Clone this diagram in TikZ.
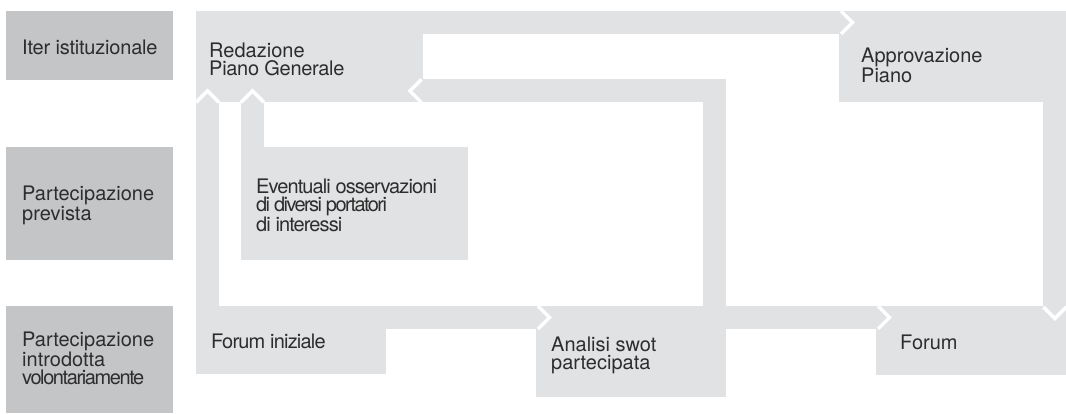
\documentclass[tikz,border=0pt]{standalone}
\usepackage{fontspec}
\setmainfont{TeX Gyre Heros}
\usetikzlibrary{calc}
\definecolor{boxgray}{RGB}{225,226,228}
\definecolor{labgray}{RGB}{196,197,199}
\definecolor{txt}{RGB}{45,45,45}
\newcommand{\trk}[2]{{\addfontfeatures{LetterSpace=#1}#2}}
\tikzset{
  labbox/.style={fill=labgray,draw=none,anchor=north west,inner sep=0pt,minimum width=167pt},
  stepbox/.style={fill=boxgray,draw=none,anchor=north west,inner sep=0pt,minimum width=#1},
  band/.style={draw=boxgray,line width=23pt,line cap=butt,line join=miter},
  chev/.style={draw=white,line width=3.5pt,line cap=butt,line join=miter},
  lbl/.style={anchor=base west,inner sep=0pt,align=left,text=txt,font=\fontsize{20}{18}\selectfont}
}
\begin{document}
\begin{tikzpicture}[x=1pt,y=-1pt]
\useasboundingbox[fill=white] (0,0) rectangle (1066,413);
% row labels
\node[labbox,minimum height=69pt] (lab1) at (6,11) {};
\node[labbox,minimum height=113pt] (lab2) at (6,147) {};
\node[labbox,minimum height=107pt] (lab3) at (6,306) {};
% step boxes
\node[stepbox=227pt,minimum height=91pt] (red) at (196,11) {};
\node[stepbox=227pt,minimum height=91pt] (app) at (839,11) {};
\node[stepbox=227pt,minimum height=113pt] (eve) at (241,147) {};
\node[stepbox=190pt,minimum height=68pt] (fi) at (196,306) {};
\node[stepbox=190pt,minimum height=91pt] (ana) at (536,306) {};
\node[stepbox=190pt,minimum height=69pt] (forum) at (876,306) {};
% connectors
\draw[band] ([yshift=-11.5pt]red.north east) -- ([yshift=-11.5pt]app.north west);
\draw[band] ([xshift=11.5pt]fi.north west) -- ([xshift=11.5pt]fi.north west |- red.south);
\draw[band] ([xshift=11.5pt]eve.north west) -- ([xshift=11.5pt]eve.north west |- red.south);
\draw[band] ([yshift=-11.5pt]fi.north east) -- ([yshift=-11.5pt]ana.north west);
\draw[band] ([xshift=-12pt]ana.north east) |- ([yshift=11.5pt]red.south east);
\draw[band] ([yshift=-11.5pt]ana.north east) -- ([yshift=-11.5pt]forum.north west);
\draw[band] ([xshift=-11.5pt]app.south east) -- ([xshift=-11.5pt]forum.north east);
% chevrons
\draw[chev] ([xshift=2pt]app.north west) -- ++(11.5,11.5) -- ++(-11.5,11.5);
\draw[chev] ([xshift=2pt]ana.north west) -- ++(11.5,11.5) -- ++(-11.5,11.5);
\draw[chev] ([xshift=2pt]forum.north west) -- ++(11.5,11.5) -- ++(-11.5,11.5);
\draw[chev] ([xshift=-2pt,yshift=23pt]red.south east) -- ++(-11.5,11.5) -- ++(11.5,11.5);
\draw[chev] (fi.north west |- red.south) -- ++(11.5,-11.5) -- ++(11.5,11.5);
\draw[chev] (eve.north west |- red.south) -- ++(11.5,-11.5) -- ++(11.5,11.5);
\draw[chev] ([xshift=-23pt,yshift=-1pt]forum.north east) -- ++(11.5,11.5) -- ++(11.5,-11.5);
% texts (base anchor = last line baseline)
\node[lbl] (t1) at (22,54) {\trk{-1}{Iter istituzionale}};
\node[lbl] (t2) at (22,220) {Partecipazione\\prevista};
\node[lbl] (t3) at (22,384) {Partecipazione\\introdotta\\\trk{-7}{volontariamente}};
\node[lbl] (t4) at (209,75) {Redazione\\\trk{-1.5}{Piano Generale}};
\node[lbl] (t5) at (861,82) {Approvazione\\Piano};
\node[lbl] (t6) at (256,231) {\trk{-4.5}{Eventuali osservazioni}\\\trk{-8}{di diversi portatori}\\\trk{-4.5}{di interessi}};
\node[lbl] (t7) at (211,348) {\trk{-4}{Forum iniziale}};
\node[lbl] (t8) at (551,369) {Analisi swot\\partecipata};
\node[lbl] (t9) at (900,349) {Forum};
\end{tikzpicture}
\end{document}
